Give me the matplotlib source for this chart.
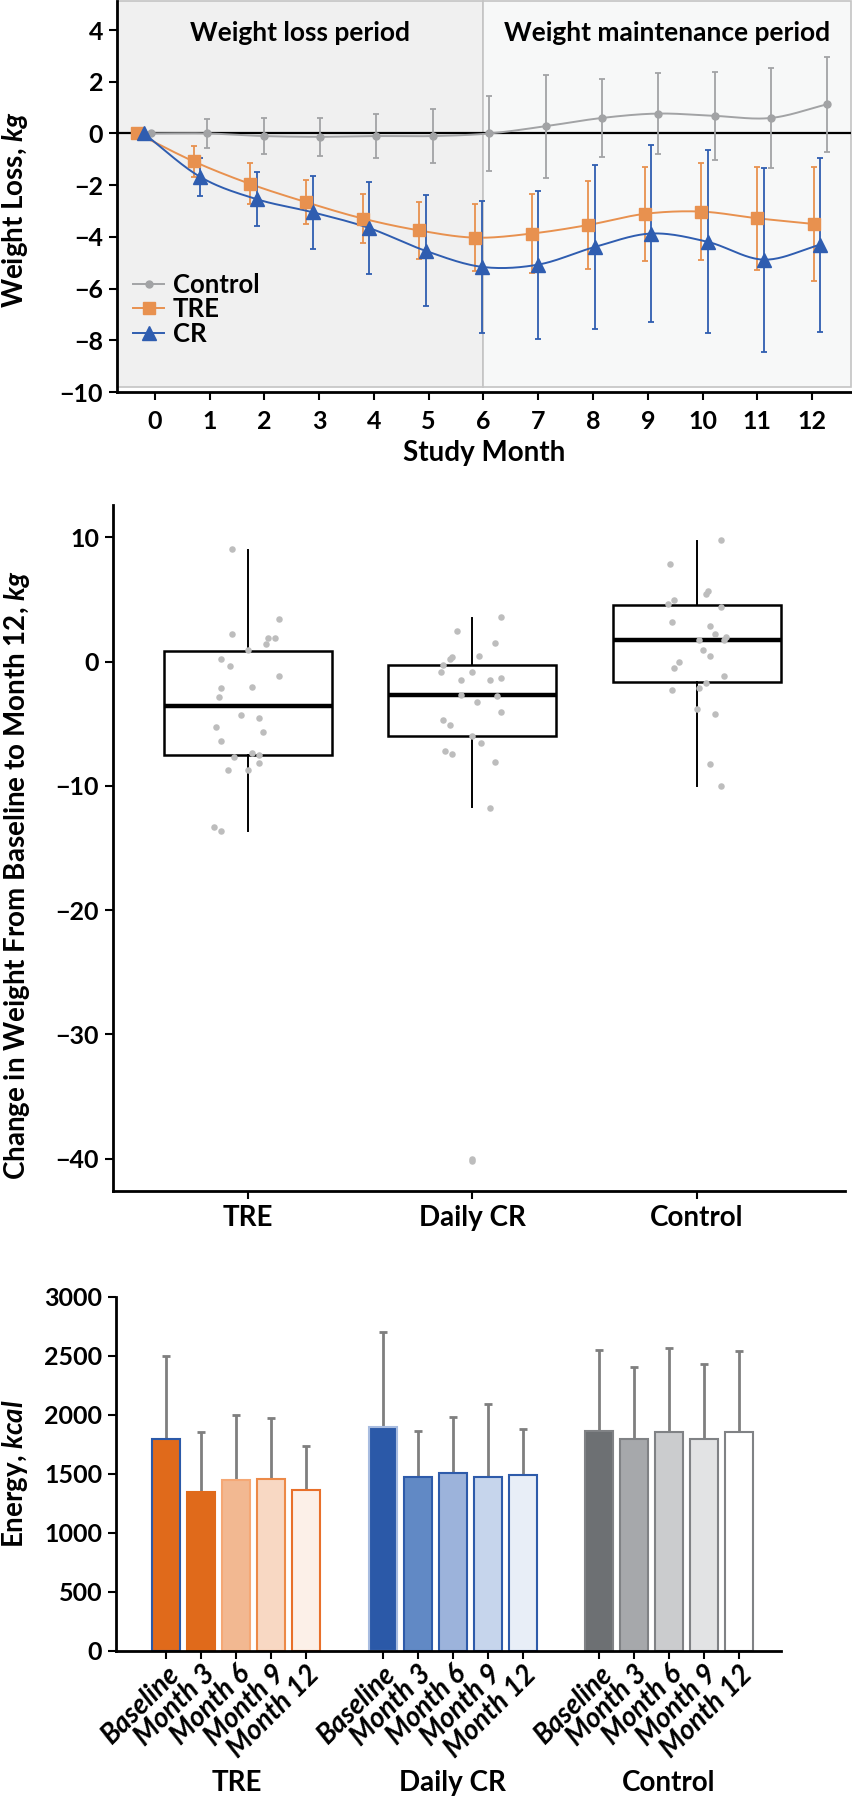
import numpy as np
import matplotlib
matplotlib.use('Agg')
import matplotlib.pyplot as plt
from matplotlib.lines import Line2D
from matplotlib.patches import Rectangle
import matplotlib.transforms as mtransforms

plt.rcParams['font.family'] = ['Lato', 'DejaVu Sans']
plt.rcParams['font.weight'] = 'bold'
plt.rcParams['axes.labelweight'] = 'bold'
plt.rcParams['mathtext.fontset'] = 'custom'
plt.rcParams['mathtext.it'] = 'Lato:italic:bold'
plt.rcParams['mathtext.rm'] = 'Lato:bold'

# ---- panel 1 data: weight loss by study month (mean, sd) ----
months = np.arange(13)
ctrl_mean = [0, 0, -0.1, -0.13, -0.1, -0.1, 0, 0.28, 0.6, 0.77, 0.68, 0.6, 1.13]
ctrl_sd = [0, 0.55, 0.68, 0.74, 0.86, 1.03, 1.44, 2.0, 1.5, 1.56, 1.7, 1.92, 1.84]
tre_mean = [0, -1.08, -1.95, -2.66, -3.29, -3.75, -4.03, -3.87, -3.54, -3.11, -3.02, -3.28, -3.5]
tre_sd = [0, 0.61, 0.79, 0.86, 0.95, 1.09, 1.3, 1.52, 1.71, 1.82, 1.88, 2.0, 2.2]
cr_mean = [0, -1.68, -2.54, -3.05, -3.66, -4.54, -5.16, -5.07, -4.39, -3.87, -4.19, -4.88, -4.3]
cr_sd = [0, 0.72, 1.05, 1.4, 1.77, 2.15, 2.56, 2.86, 3.18, 3.43, 3.54, 3.56, 3.36]

# ---- panel 2 data: change in weight baseline -> month 12 ----
box_groups = ['TRE', 'Daily CR', 'Control']
box_q1 = [-7.48, -5.95, -1.61]
box_med = [-3.59, -2.68, 1.74]
box_q3 = [0.83, -0.24, 4.58]
box_lo = [-13.6, -11.7, -10.0]
box_hi = [9.0, 3.54, 9.7]

tre_pts = [9.09, 3.40, 2.25, 1.90, 1.90, 1.39, 0.94, 0.19, -0.35, -1.15, -2.09, -2.06, -2.87,
           -4.32, -4.56, -5.23, -5.66, -6.38, -7.32, -7.51, -7.64, -8.18, -8.69, -8.69, -13.3, -13.6]
tre_jit = [-0.07, 0.14, -0.07, 0.12, 0.09, 0.08, 0.0, -0.12, -0.08, 0.14, -0.12, 0.02, -0.13,
           -0.03, 0.05, -0.14, 0.07, -0.12, 0.02, 0.05, -0.06, 0.05, -0.09, 0.0, -0.15, -0.12]
cr_pts = [3.59, 2.44, 1.53, 0.48, 0.35, 0.24, -0.24, -0.80, -0.80, -1.29, -1.50, -1.45, -2.71,
          -2.79, -3.24, -4.05, -4.69, -5.07, -5.95, -6.54, -7.16, -7.45, -8.04, -11.74, -40.0, -40.2]
cr_jit = [0.13, -0.07, 0.10, 0.03, -0.09, -0.10, -0.13, -0.14, 0.0, 0.13, -0.05, 0.08, -0.05,
          0.11, 0.02, 0.13, -0.13, -0.10, 0.0, 0.04, -0.12, -0.09, 0.10, 0.08, 0.0, 0.0]
ctrl_pts = [9.76, 7.83, 5.66, 5.47, 4.93, 4.64, 4.37, 3.16, 2.87, 2.20, 1.96, 1.72, 1.77, 0.94,
            0.43, -0.03, -0.54, -1.15, -1.72, -2.28, -2.12, -3.81, -4.21, -8.23, -9.97]
ctrl_jit = [0.11, -0.12, 0.05, 0.04, -0.10, -0.13, 0.11, -0.11, 0.06, 0.08, 0.13, 0.01, 0.12, 0.03,
            0.06, -0.08, -0.10, 0.12, 0.04, -0.11, 0.01, 0.0, 0.08, 0.06, 0.11]

# ---- panel 3 data: energy intake ----
visits = ['Baseline', 'Month 3', 'Month 6', 'Month 9', 'Month 12']
energy_groups = ['TRE', 'Daily CR', 'Control']
tre_energy = [1800, 1350, 1448, 1460, 1360]
tre_energy_top = [2497, 1855, 2002, 1971, 1736]
cr_energy = [1900, 1473, 1505, 1473, 1490]
cr_energy_top = [2701, 1864, 1985, 2093, 1883]
ctrl_energy = [1861, 1800, 1858, 1800, 1858]
ctrl_energy_top = [2554, 2409, 2565, 2432, 2542]

C_CTRL = '#A2A3A5'
C_TRE = '#E8914F'
C_CR = '#2F5DB0'
NUM = 18   # tick numbers
TXT = 20   # labels


def smooth(x, y, n=24):
    # catmull-rom curve through the points, only for drawing the line
    x = np.asarray(x, float)
    y = np.asarray(y, float)
    px = np.concatenate([[2 * x[0] - x[1]], x, [2 * x[-1] - x[-2]]])
    py = np.concatenate([[2 * y[0] - y[1]], y, [2 * y[-1] - y[-2]]])
    t = np.linspace(0, 1, n, endpoint=False)
    xs, ys = [], []
    for i in range(1, len(px) - 2):
        for p, out in ((px, xs), (py, ys)):
            p0, p1, p2, p3 = p[i - 1], p[i], p[i + 1], p[i + 2]
            out.append(0.5 * (2 * p1 + (-p0 + p2) * t + (2 * p0 - 5 * p1 + 4 * p2 - p3) * t ** 2
                              + (-p0 + 3 * p1 - 3 * p2 + p3) * t ** 3))
    return np.concatenate(xs + [[x[-1]]]), np.concatenate(ys + [[y[-1]]])


def style_axes(ax):
    for s in ['top', 'right']:
        ax.spines[s].set_visible(False)
    for s in ['left', 'bottom']:
        ax.spines[s].set_linewidth(2)
    ax.tick_params(direction='out', length=6, width=1.5, labelsize=NUM, pad=4)


fig = plt.figure(figsize=(8.53, 18), dpi=100)

# =============== panel 1 ===============
ax1 = fig.add_axes([0.1372, 0.7822, 0.8605, 0.2172])
x_lo, x_hi, y_lo, y_hi = -0.69, 12.71, -10, 5.12
ax1.add_patch(Rectangle((x_lo, -9.8), 6 - x_lo, y_hi + 9.8, facecolor='#F0F0F0',
                        edgecolor='#C4C4C4', lw=1.2, zorder=0, clip_on=False))
ax1.add_patch(Rectangle((6, -9.8), x_hi - 6, y_hi + 9.8, facecolor='#F7F8F8',
                        edgecolor='#C4C4C4', lw=1.2, zorder=0, clip_on=False))
ax1.axhline(0, color='black', lw=1.6, zorder=1)

stretch = 1.029
series = [
    ('Control', ctrl_mean, ctrl_sd, C_CTRL, 'o', 5, -0.07),
    ('TRE', tre_mean, tre_sd, C_TRE, 's', 8, -0.32),
    ('CR', cr_mean, cr_sd, C_CR, '^', 9.5, -0.20),
]
handles = []
for name, mean, sd, col, mk, ms, off in series:
    xs = months * stretch + off
    sx, sy = smooth(xs, mean)
    ax1.plot(sx, sy, color=col, lw=1.4, zorder=2)
    ax1.errorbar(xs, mean, yerr=sd, fmt='none', ecolor=col, elinewidth=1.3,
                 capsize=2.5, capthick=1.3, zorder=2)
    ax1.plot(xs, mean, ls='none', marker=mk, ms=ms, color=col, zorder=3)
    handles.append(Line2D([], [], color=col, lw=1.4, marker=mk, ms=ms, label=name))

ax1.set_xlim(x_lo, x_hi)
ax1.set_ylim(y_lo, y_hi)
ax1.set_xticks(months)
ax1.set_yticks(np.arange(-10, 5, 2))
style_axes(ax1)
ax1.tick_params(axis='x', pad=7)
ax1.set_xlabel('Study Month', fontsize=TXT, labelpad=5)
ax1.set_ylabel(r'Weight Loss, $\mathit{kg}$', fontsize=TXT)
ax1.yaxis.set_label_coords(-0.118, 0.465)
ax1.text(6 / 2 + x_lo / 2, 3.9, 'Weight loss period', fontsize=19, ha='center', va='center')
ax1.text((6 + x_hi) / 2, 3.9, 'Weight maintenance period', fontsize=19, ha='center', va='center')
ax1.legend(handles=handles, loc='upper left', bbox_to_anchor=(0.022, 0.305), frameon=False,
           prop={'weight': 'bold', 'size': 18.5}, handlelength=1.2,
           handletextpad=0.35, labelspacing=0.02, borderpad=0, borderaxespad=0)

# =============== panel 2 ===============
ax2 = fig.add_axes([0.1325, 0.3383, 0.858, 0.3811])
stats = [dict(q1=box_q1[i], med=box_med[i], q3=box_q3[i], whislo=box_lo[i], whishi=box_hi[i],
              fliers=[], label=box_groups[i]) for i in range(3)]
ax2.bxp(stats, positions=[0, 1, 2], widths=0.75, showcaps=False, patch_artist=True,
        boxprops=dict(facecolor='white', edgecolor='black', lw=1.8),
        medianprops=dict(color='black', lw=3.2),
        whiskerprops=dict(color='black', lw=1.4), zorder=2)
for i, (pts, jit) in enumerate([(tre_pts, tre_jit), (cr_pts, cr_jit), (ctrl_pts, ctrl_jit)]):
    ax2.scatter(i + np.array(jit), pts, s=22, color='#BDBDBD', lw=0, zorder=3)
ax2.set_xlim(-0.6, 2.66)
ax2.set_ylim(-42.6, 12.6)
ax2.set_yticks([10, 0, -10, -20, -30, -40])
style_axes(ax2)
ax2.tick_params(axis='x', labelsize=TXT, pad=4)
ax2.set_ylabel(r'Change in Weight From Baseline to Month 12, $\mathit{kg}$', fontsize=TXT)
ax2.yaxis.set_label_coords(-0.111, 0.46)

# =============== panel 3 ===============
ax3 = fig.add_axes([0.136, 0.0828, 0.7796, 0.1967])
group_gap = 6.18
fills = [
    ['#E06A1B', '#E06A1B', '#F2B891', '#F8D8C3', '#FCF0E8'],
    ['#2B59A8', '#6189C5', '#9CB3DB', '#C6D5EC', '#E8EEF7'],
    ['#6D7073', '#A6A8AB', '#CBCCCE', '#E2E3E4', '#FFFFFF'],
]
edges = [
    ['#2B59A8', '#E06A1B', '#F5A875', '#EC8A48', '#E8702A'],
    ['#A8BCE0', '#2E5BAA', '#2E5BAA', '#2E5BAA', '#2E5BAA'],
    ['#808285', '#808285', '#808285', '#808285', '#808285'],
]
ticks, tick_labels = [], []
for g, (vals, tops) in enumerate([(tre_energy, tre_energy_top), (cr_energy, cr_energy_top),
                                  (ctrl_energy, ctrl_energy_top)]):
    xs = g * group_gap + np.arange(len(visits))
    vals = np.array(vals)
    ax3.bar(xs, vals, width=0.8, color=fills[g], edgecolor=edges[g], lw=1.5, zorder=2)
    ax3.errorbar(xs, vals, yerr=[np.zeros(len(vals)), np.array(tops) - vals], fmt='none',
                 ecolor='#7F7F7F', elinewidth=2, capsize=3, capthick=2, zorder=1)
    ticks += list(xs)
    tick_labels += visits
    ax3.text(xs.mean(), -0.373, energy_groups[g], fontsize=TXT, ha='center', va='center',
             transform=mtransforms.blended_transform_factory(ax3.transData, ax3.transAxes))
ax3.set_xlim(-1.44, 17.56)
ax3.set_ylim(0, 3000)
ax3.set_yticks(np.arange(0, 3001, 500))
ax3.set_xticks(ticks)
ax3.set_xticklabels(tick_labels, rotation=45, ha='right', rotation_mode='anchor',
                    style='italic', fontsize=20)
style_axes(ax3)
ax3.tick_params(axis='x', labelsize=20, pad=1)
ax3.set_ylabel(r'Energy, $\mathit{kcal}$', fontsize=TXT)
ax3.yaxis.set_label_coords(-0.129, 0.5)

fig.savefig('out.png', dpi=100)
